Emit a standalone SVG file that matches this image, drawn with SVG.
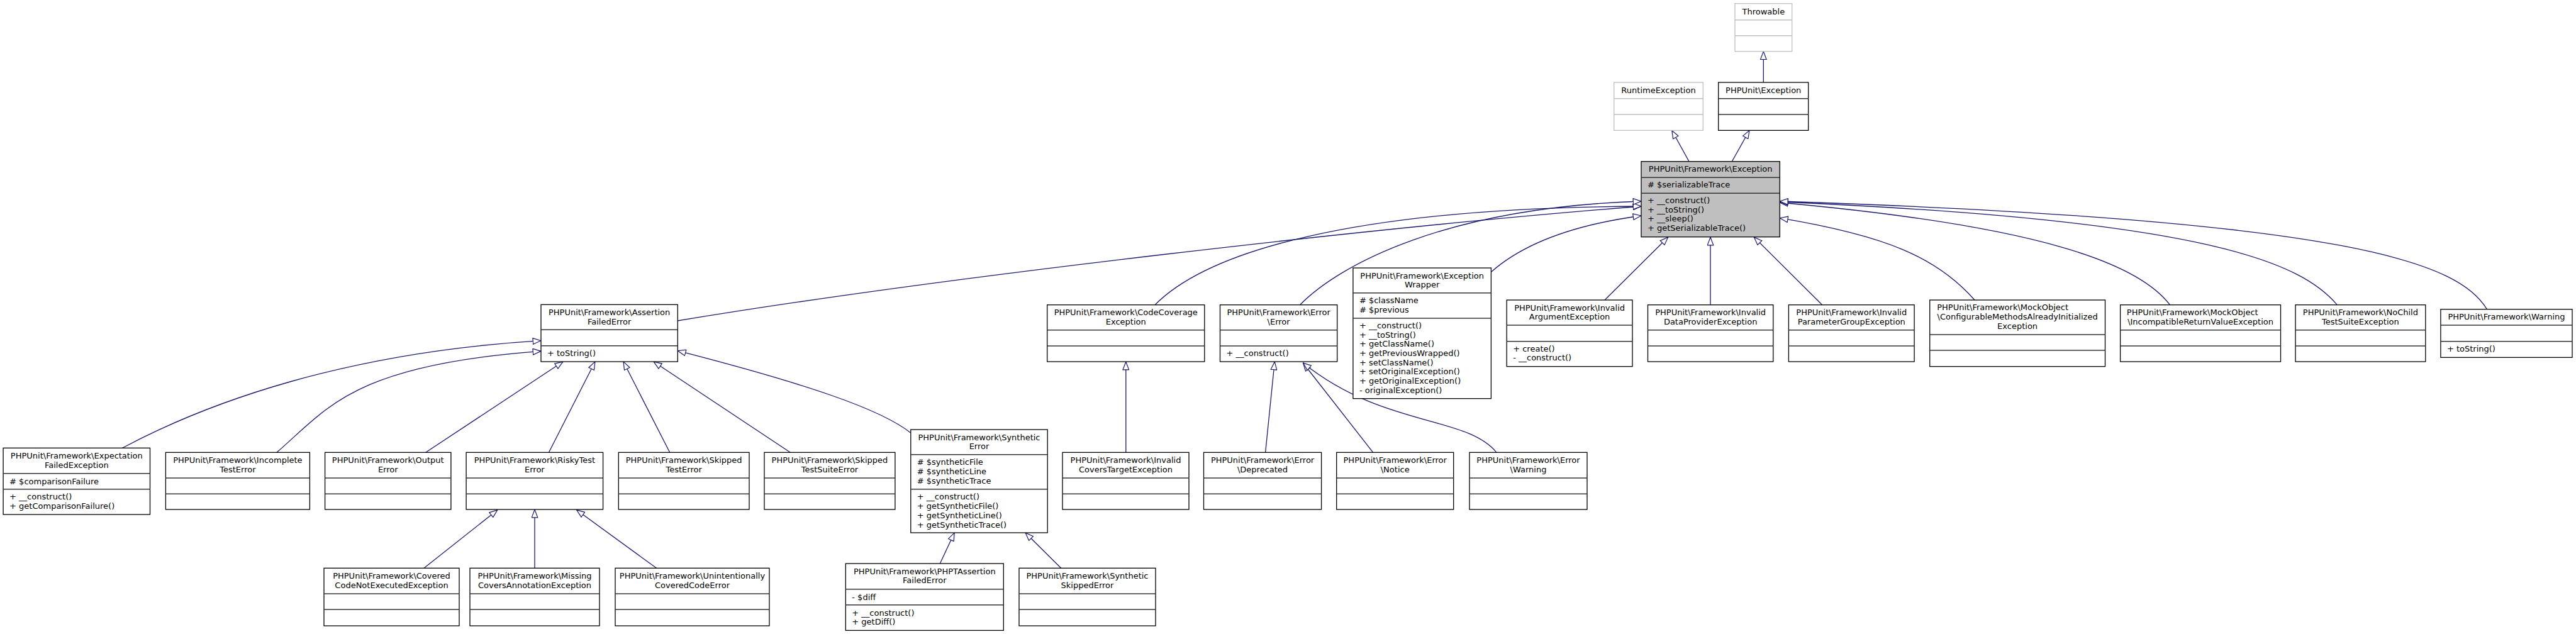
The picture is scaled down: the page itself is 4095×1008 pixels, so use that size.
<svg xmlns="http://www.w3.org/2000/svg" width="4095" height="1008" viewBox="0 0 4095 1008">
<style>
.bg{fill:#fff}
.e{fill:none;stroke:#191970;stroke-width:1.3;marker-end:url(#ah)}
.box{fill:#fff;stroke:#000;stroke-width:1.3}
.main .box{fill:#bfbfbf}
.dv{stroke:#333;stroke-width:1.4}
.gray .box,.gray .dv{stroke:#bfbfbf}
.t{font-family:'DejaVu Sans','Liberation Sans',sans-serif;font-size:13px;fill:#000}
.c{text-anchor:middle}
</style>
<defs>
<marker id="ah" viewBox="0 0 14 11" refX="13.5" refY="5.5" markerWidth="14" markerHeight="11" markerUnits="userSpaceOnUse" orient="auto">
<path d="M0.7,0.7 L13.3,5.5 L0.7,10.3 Z" fill="#fff" stroke="#191970" stroke-width="1.2"/>
</marker>
</defs>
<rect class="bg" x="0" y="0" width="4095" height="1008"/>
<g id="edges">
<path class="e" d="M2803.3,131 L2803.3,81.7"/>
<path class="e" d="M2685,256.7 L2657.7,207.3"/>
<path class="e" d="M2753.3,256.7 L2781,207.3"/>
<path class="e" d="M1077.3,510 C1500,440 2200,360 2609,328"/>
<path class="e" d="M1836,484.7 C1920,400 2150,330 2609,328"/>
<path class="e" d="M2066.5,484.7 C2130,420 2300,330 2609,320"/>
<path class="e" d="M2371,432 C2430,380 2520,355 2609,343"/>
<path class="e" d="M2551,477 L2651.7,377"/>
<path class="e" d="M2719,484.7 L2719,377"/>
<path class="e" d="M2896.7,484.7 L2788.3,377"/>
<path class="e" d="M3139,477 C3080,410 3000,375 2829.3,346.7"/>
<path class="e" d="M3449.5,484.7 C3400,420 3250,360 2829.3,322"/>
<path class="e" d="M3715.3,484.7 C3660,420 3520,350 2829.3,321"/>
<path class="e" d="M3953.4,491.7 C3910,420 3750,350 2829.3,320"/>
<path class="e" d="M194.5,712.3 C330,640 550,560 860,541.7"/>
<path class="e" d="M440,719.3 C520,650 560,580 860,558.3"/>
<path class="e" d="M676.8,719.3 L895,575"/>
<path class="e" d="M872.5,719.3 L946,575"/>
<path class="e" d="M1064.7,719.3 L991,575"/>
<path class="e" d="M1256.2,719.3 L1039,575"/>
<path class="e" d="M1447.8,688.3 C1400,650 1280,610 1077.3,557.7"/>
<path class="e" d="M1494.3,896 L1517.2,847"/>
<path class="e" d="M1686.7,903.3 L1630,847"/>
<path class="e" d="M674,903.3 L790.9,810.7"/>
<path class="e" d="M850,903.3 L850,810"/>
<path class="e" d="M1043.6,903.3 L916.5,810.7"/>
<path class="e" d="M1789.8,719.3 L1789.8,575"/>
<path class="e" d="M2011.6,719.3 L2026.3,575"/>
<path class="e" d="M2182.7,719.3 L2071.4,577"/>
<path class="e" d="M2379,719.3 C2330,660 2200,680 2071.4,577"/>
</g>
<g id="n_throwable" class="gray">
<rect class="box" x="2758" y="5.7" width="90.7" height="76"/>
<line class="dv" x1="2758" y1="31.7" x2="2848.7" y2="31.7"/><line class="dv" x1="2758" y1="56.7" x2="2848.7" y2="56.7"/>
<text class="t c" x="2803.35" y="22.5">Throwable</text>
</g>
<g id="n_runtime" class="gray">
<rect class="box" x="2565.7" y="131" width="141.6" height="76.3"/>
<line class="dv" x1="2565.7" y1="156.7" x2="2707.3" y2="156.7"/><line class="dv" x1="2565.7" y1="182" x2="2707.3" y2="182"/>
<text class="t c" x="2636.5" y="147.5">RuntimeException</text>
</g>
<g id="n_phpunitexception">
<rect class="box" x="2731.7" y="131" width="143" height="76.3"/>
<line class="dv" x1="2731.7" y1="156.7" x2="2874.7" y2="156.7"/><line class="dv" x1="2731.7" y1="182" x2="2874.7" y2="182"/>
<text class="t c" x="2803.2" y="147.5">PHPUnit\Exception</text>
</g>
<g id="n_exception" class="main">
<rect class="box" x="2609" y="256.7" width="220.3" height="120"/>
<line class="dv" x1="2609" y1="282.3" x2="2829.3" y2="282.3"/><line class="dv" x1="2609" y1="307.3" x2="2829.3" y2="307.3"/>
<text class="t c" x="2719.15" y="273">PHPUnit\Framework\Exception</text>
<text class="t" x="2619" y="298">#  $serializableTrace</text>
<text class="t" x="2619" y="322.8">+  __construct()</text>
<text class="t" x="2619" y="337.5">+  __toString()</text>
<text class="t" x="2619" y="352.2">+  __sleep()</text>
<text class="t" x="2619" y="366.9">+ getSerializableTrace()</text>
</g>
<g id="n_assertionfailed">
<rect class="box" x="860" y="484.3" width="217.3" height="90.7"/>
<line class="dv" x1="860" y1="524.3" x2="1077.3" y2="524.3"/><line class="dv" x1="860" y1="549.7" x2="1077.3" y2="549.7"/>
<text class="t c" x="968.65" y="501">PHPUnit\Framework\Assertion</text>
<text class="t c" x="968.65" y="515.5">FailedError</text>
<text class="t" x="870" y="565.5">+ toString()</text>
</g>
<g id="n_codecoverage">
<rect class="box" x="1664.7" y="484.7" width="250.1" height="90.3"/>
<line class="dv" x1="1664.7" y1="524.7" x2="1914.8" y2="524.7"/><line class="dv" x1="1664.7" y1="550" x2="1914.8" y2="550"/>
<text class="t c" x="1789.75" y="501.4">PHPUnit\Framework\CodeCoverage</text>
<text class="t c" x="1789.75" y="515.9">Exception</text>
</g>
<g id="n_errorerror">
<rect class="box" x="1939.5" y="484.7" width="186.2" height="90.3"/>
<line class="dv" x1="1939.5" y1="524.7" x2="2125.7" y2="524.7"/><line class="dv" x1="1939.5" y1="550" x2="2125.7" y2="550"/>
<text class="t c" x="2032.6" y="501.4">PHPUnit\Framework\Error</text>
<text class="t c" x="2032.6" y="515.9">\Error</text>
<text class="t" x="1949.5" y="565.8">+  __construct()</text>
</g>
<g id="n_wrapper">
<rect class="box" x="2150.9" y="426" width="219.5" height="207.7"/>
<line class="dv" x1="2150.9" y1="465.7" x2="2370.4" y2="465.7"/><line class="dv" x1="2150.9" y1="506" x2="2370.4" y2="506"/>
<text class="t c" x="2260.65" y="442.5">PHPUnit\Framework\Exception</text>
<text class="t c" x="2260.65" y="457.2">Wrapper</text>
<text class="t" x="2160.9" y="482">#  $className</text>
<text class="t" x="2160.9" y="496.7">#  $previous</text>
<text class="t" x="2160.9" y="521.8">+  __construct()</text>
<text class="t" x="2160.9" y="536.5">+  __toString()</text>
<text class="t" x="2160.9" y="551.2">+ getClassName()</text>
<text class="t" x="2160.9" y="565.9">+ getPreviousWrapped()</text>
<text class="t" x="2160.9" y="580.6">+ setClassName()</text>
<text class="t" x="2160.9" y="595.3">+ setOriginalException()</text>
<text class="t" x="2160.9" y="610">+ getOriginalException()</text>
<text class="t" x="2160.9" y="624.7">- originalException()</text>
</g>
<g id="n_invalidargument">
<rect class="box" x="2395.2" y="477" width="199.8" height="105.7"/>
<line class="dv" x1="2395.2" y1="517" x2="2595" y2="517"/><line class="dv" x1="2395.2" y1="542.7" x2="2595" y2="542.7"/>
<text class="t c" x="2495.1" y="493.7">PHPUnit\Framework\Invalid</text>
<text class="t c" x="2495.1" y="508.2">ArgumentException</text>
<text class="t" x="2405.2" y="558.6">+ create()</text>
<text class="t" x="2405.2" y="573">-  __construct()</text>
</g>
<g id="n_invaliddataprovider">
<rect class="box" x="2619.5" y="484.7" width="199.3" height="90.3"/>
<line class="dv" x1="2619.5" y1="524.7" x2="2818.8" y2="524.7"/><line class="dv" x1="2619.5" y1="550" x2="2818.8" y2="550"/>
<text class="t c" x="2719.15" y="501.4">PHPUnit\Framework\Invalid</text>
<text class="t c" x="2719.15" y="515.9">DataProviderException</text>
</g>
<g id="n_invalidparametergroup">
<rect class="box" x="2843.4" y="484.7" width="199.7" height="90.3"/>
<line class="dv" x1="2843.4" y1="524.7" x2="3043.1" y2="524.7"/><line class="dv" x1="2843.4" y1="550" x2="3043.1" y2="550"/>
<text class="t c" x="2943.25" y="501.4">PHPUnit\Framework\Invalid</text>
<text class="t c" x="2943.25" y="515.9">ParameterGroupException</text>
</g>
<g id="n_configurable">
<rect class="box" x="3067.7" y="477" width="278.8" height="105.7"/>
<line class="dv" x1="3067.7" y1="532" x2="3346.5" y2="532"/><line class="dv" x1="3067.7" y1="557" x2="3346.5" y2="557"/>
<text class="t" x="3079.2" y="493.2">PHPUnit\Framework\MockObject</text>
<text class="t c" x="3207.1" y="508.2">\ConfigurableMethodsAlreadyInitialized</text>
<text class="t c" x="3207.1" y="523.2">Exception</text>
</g>
<g id="n_incompatible">
<rect class="box" x="3370.6" y="484.7" width="254.9" height="90.3"/>
<line class="dv" x1="3370.6" y1="524.7" x2="3625.5" y2="524.7"/><line class="dv" x1="3370.6" y1="550" x2="3625.5" y2="550"/>
<text class="t" x="3380.8" y="501.4">PHPUnit\Framework\MockObject</text>
<text class="t c" x="3498.05" y="515.9">\IncompatibleReturnValueException</text>
</g>
<g id="n_nochild">
<rect class="box" x="3649" y="484.7" width="206.8" height="90.3"/>
<line class="dv" x1="3649" y1="524.7" x2="3855.8" y2="524.7"/><line class="dv" x1="3649" y1="550" x2="3855.8" y2="550"/>
<text class="t c" x="3752.4" y="501.4">PHPUnit\Framework\NoChild</text>
<text class="t c" x="3752.4" y="515.9">TestSuiteException</text>
</g>
<g id="n_warning">
<rect class="box" x="3879.9" y="491.7" width="209.1" height="76.6"/>
<line class="dv" x1="3879.9" y1="517" x2="4089" y2="517"/><line class="dv" x1="3879.9" y1="542.7" x2="4089" y2="542.7"/>
<text class="t c" x="3984.45" y="508.4">PHPUnit\Framework\Warning</text>
<text class="t" x="3889.9" y="558.6">+ toString()</text>
</g>
<g id="n_expectation">
<rect class="box" x="5.1" y="712.3" width="233.4" height="105.7"/>
<line class="dv" x1="5.1" y1="752.7" x2="238.5" y2="752.7"/><line class="dv" x1="5.1" y1="777.7" x2="238.5" y2="777.7"/>
<text class="t c" x="121.8" y="729">PHPUnit\Framework\Expectation</text>
<text class="t c" x="121.8" y="743.5">FailedException</text>
<text class="t" x="15.1" y="769.5">#  $comparisonFailure</text>
<text class="t" x="15.1" y="793.8">+  __construct()</text>
<text class="t" x="15.1" y="808.5">+ getComparisonFailure()</text>
</g>
<g id="n_incomplete">
<rect class="box" x="263.4" y="719.3" width="229" height="90.7"/>
<line class="dv" x1="263.4" y1="760" x2="492.4" y2="760"/><line class="dv" x1="263.4" y1="785.3" x2="492.4" y2="785.3"/>
<text class="t c" x="377.9" y="736">PHPUnit\Framework\Incomplete</text>
<text class="t c" x="377.9" y="750.5">TestError</text>
</g>
<g id="n_output">
<rect class="box" x="516.6" y="719.3" width="200.3" height="90.7"/>
<line class="dv" x1="516.6" y1="760" x2="716.9" y2="760"/><line class="dv" x1="516.6" y1="785.3" x2="716.9" y2="785.3"/>
<text class="t c" x="616.75" y="736">PHPUnit\Framework\Output</text>
<text class="t c" x="616.75" y="750.5">Error</text>
</g>
<g id="n_risky">
<rect class="box" x="741.1" y="719.3" width="217.5" height="90.7"/>
<line class="dv" x1="741.1" y1="760" x2="958.6" y2="760"/><line class="dv" x1="741.1" y1="785.3" x2="958.6" y2="785.3"/>
<text class="t c" x="849.85" y="736">PHPUnit\Framework\RiskyTest</text>
<text class="t c" x="849.85" y="750.5">Error</text>
</g>
<g id="n_skippedtest">
<rect class="box" x="983.3" y="719.3" width="207.7" height="90.7"/>
<line class="dv" x1="983.3" y1="760" x2="1191" y2="760"/><line class="dv" x1="983.3" y1="785.3" x2="1191" y2="785.3"/>
<text class="t c" x="1087.15" y="736">PHPUnit\Framework\Skipped</text>
<text class="t c" x="1087.15" y="750.5">TestError</text>
</g>
<g id="n_skippedsuite">
<rect class="box" x="1215" y="719.3" width="207.9" height="90.7"/>
<line class="dv" x1="1215" y1="760" x2="1422.9" y2="760"/><line class="dv" x1="1215" y1="785.3" x2="1422.9" y2="785.3"/>
<text class="t c" x="1318.95" y="736">PHPUnit\Framework\Skipped</text>
<text class="t c" x="1318.95" y="750.5">TestSuiteError</text>
</g>
<g id="n_synthetic">
<rect class="box" x="1447.8" y="683" width="217.4" height="164"/>
<line class="dv" x1="1447.8" y1="722.7" x2="1665.2" y2="722.7"/><line class="dv" x1="1447.8" y1="777.7" x2="1665.2" y2="777.7"/>
<text class="t c" x="1556.5" y="699.7">PHPUnit\Framework\Synthetic</text>
<text class="t c" x="1556.5" y="714.2">Error</text>
<text class="t" x="1457.8" y="738.8">#  $syntheticFile</text>
<text class="t" x="1457.8" y="753.8">#  $syntheticLine</text>
<text class="t" x="1457.8" y="768.8">#  $syntheticTrace</text>
<text class="t" x="1457.8" y="793.8">+  __construct()</text>
<text class="t" x="1457.8" y="808.8">+ getSyntheticFile()</text>
<text class="t" x="1457.8" y="823.8">+ getSyntheticLine()</text>
<text class="t" x="1457.8" y="838.8">+ getSyntheticTrace()</text>
</g>
<g id="n_invalidcovers">
<rect class="box" x="1689" y="719.3" width="201" height="90.7"/>
<line class="dv" x1="1689" y1="760" x2="1890" y2="760"/><line class="dv" x1="1689" y1="785.3" x2="1890" y2="785.3"/>
<text class="t c" x="1789.5" y="736">PHPUnit\Framework\Invalid</text>
<text class="t c" x="1789.5" y="750.5">CoversTargetException</text>
</g>
<g id="n_deprecated">
<rect class="box" x="1913.5" y="719.3" width="187.1" height="90.7"/>
<line class="dv" x1="1913.5" y1="760" x2="2100.6" y2="760"/><line class="dv" x1="1913.5" y1="785.3" x2="2100.6" y2="785.3"/>
<text class="t c" x="2007.05" y="736">PHPUnit\Framework\Error</text>
<text class="t c" x="2007.05" y="750.5">\Deprecated</text>
</g>
<g id="n_notice">
<rect class="box" x="2124.7" y="719.3" width="186" height="90.7"/>
<line class="dv" x1="2124.7" y1="760" x2="2310.7" y2="760"/><line class="dv" x1="2124.7" y1="785.3" x2="2310.7" y2="785.3"/>
<text class="t c" x="2217.7" y="736">PHPUnit\Framework\Error</text>
<text class="t c" x="2217.7" y="750.5">\Notice</text>
</g>
<g id="n_errwarning">
<rect class="box" x="2336" y="719.3" width="187" height="90.7"/>
<line class="dv" x1="2336" y1="760" x2="2523" y2="760"/><line class="dv" x1="2336" y1="785.3" x2="2523" y2="785.3"/>
<text class="t c" x="2429.5" y="736">PHPUnit\Framework\Error</text>
<text class="t c" x="2429.5" y="750.5">\Warning</text>
</g>
<g id="n_covered">
<rect class="box" x="515" y="903.3" width="215" height="91.7"/>
<line class="dv" x1="515" y1="944" x2="730" y2="944"/><line class="dv" x1="515" y1="969" x2="730" y2="969"/>
<text class="t c" x="622.5" y="920">PHPUnit\Framework\Covered</text>
<text class="t c" x="622.5" y="934.5">CodeNotExecutedException</text>
</g>
<g id="n_missing">
<rect class="box" x="747" y="903.3" width="206" height="91.7"/>
<line class="dv" x1="747" y1="944" x2="953" y2="944"/><line class="dv" x1="747" y1="969" x2="953" y2="969"/>
<text class="t c" x="850" y="920">PHPUnit\Framework\Missing</text>
<text class="t c" x="850" y="934.5">CoversAnnotationException</text>
</g>
<g id="n_unintentionally">
<rect class="box" x="978" y="903.3" width="245" height="91.7"/>
<line class="dv" x1="978" y1="944" x2="1223" y2="944"/><line class="dv" x1="978" y1="969" x2="1223" y2="969"/>
<text class="t c" x="1100.5" y="920">PHPUnit\Framework\Unintentionally</text>
<text class="t c" x="1100.5" y="934.5">CoveredCodeError</text>
</g>
<g id="n_phpt">
<rect class="box" x="1344.3" y="896" width="251" height="106.3"/>
<line class="dv" x1="1344.3" y1="936.7" x2="1595.3" y2="936.7"/><line class="dv" x1="1344.3" y1="961.7" x2="1595.3" y2="961.7"/>
<text class="t c" x="1469.8" y="912.7">PHPUnit\Framework\PHPTAssertion</text>
<text class="t c" x="1469.8" y="927.2">FailedError</text>
<text class="t" x="1354.3" y="953.5">- $diff</text>
<text class="t" x="1354.3" y="978.5">+  __construct()</text>
<text class="t" x="1354.3" y="992.8">+ getDiff()</text>
</g>
<g id="n_syntheticskipped">
<rect class="box" x="1620" y="903.3" width="217" height="91.7"/>
<line class="dv" x1="1620" y1="944" x2="1837" y2="944"/><line class="dv" x1="1620" y1="969" x2="1837" y2="969"/>
<text class="t c" x="1728.5" y="920">PHPUnit\Framework\Synthetic</text>
<text class="t c" x="1728.5" y="934.5">SkippedError</text>
</g>
</svg>
